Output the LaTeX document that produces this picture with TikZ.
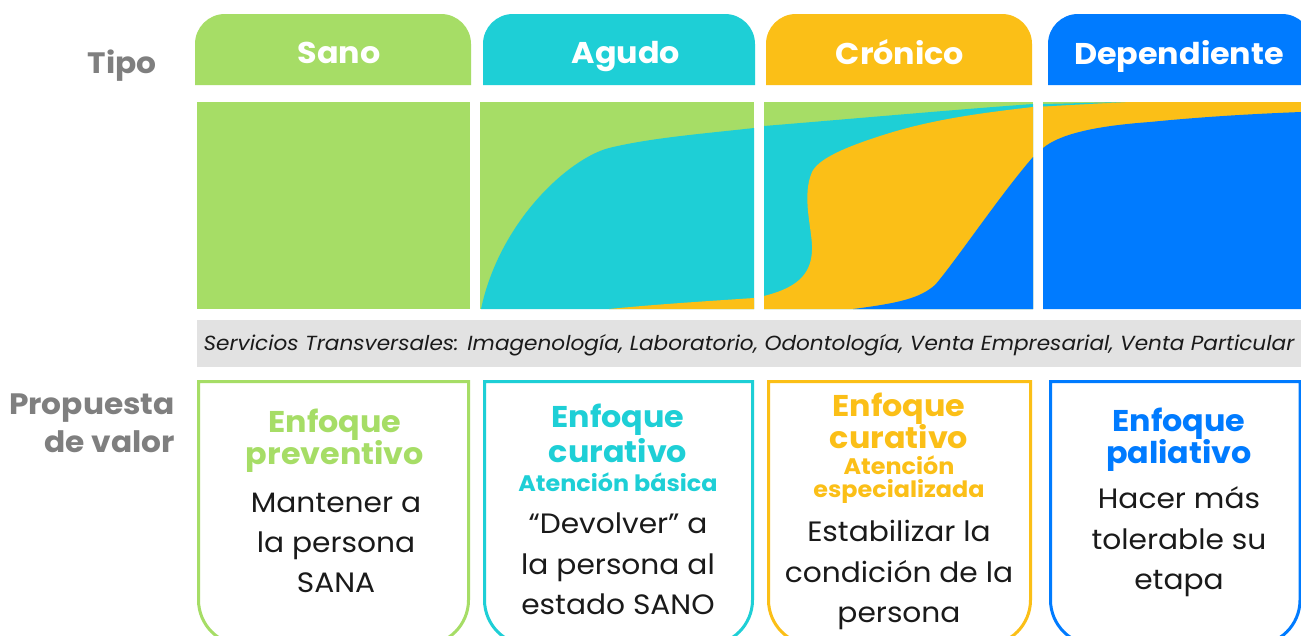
\documentclass[tikz,border=0pt]{standalone}
\usepackage{fontspec}
\setmainfont{Poppins}[FakeStretch=1.06]
\definecolor{cgreen}{HTML}{A6DD66}
\definecolor{cteal}{HTML}{1ECFD6}
\definecolor{cyellow}{HTML}{FBBF17}
\definecolor{cblue}{HTML}{007BFF}
\definecolor{cgraytxt}{HTML}{7F7F7F}
\definecolor{cband}{HTML}{E2E2E2}
\definecolor{cbody}{HTML}{1A1A1A}
\tikzset{
  headlbl/.style={anchor=base, text=white, font=\fontsize{30}{34}\selectfont\bfseries, inner sep=0pt},
  sidelbl/.style={anchor=base east, text=cgraytxt, font=\fontsize{29.5}{34}\selectfont\bfseries, inner sep=0pt},
  headline/.style={anchor=base, font=\fontsize{30}{34}\selectfont\bfseries, inner sep=0pt},
  subline/.style={anchor=base, font=\fontsize{22.5}{26}\selectfont\bfseries, inner sep=0pt},
  bodyline/.style={anchor=base, text=cbody, font=\fontsize{28}{32}\selectfont, inner sep=0pt},
  boxline/.style={line width=3pt},
}
\newcommand\headtab[3]{\fill[#3] (#1,85) -- (#1,44) arc[start angle=180,end angle=270,radius=30] -- ({#2-30},14) arc[start angle=270,end angle=360,radius=30] -- (#2,85) -- cycle;}
\newcommand\valbox[3]{\draw[boxline,#3] (#1,381.5) -- (#1,600) arc[start angle=180,end angle=90,radius=45] -- ({#2-45},645) arc[start angle=90,end angle=0,radius=45] -- (#2,381.5) -- cycle;}
\begin{document}
\begin{tikzpicture}[x=1pt,y=-1pt]
\useasboundingbox (0,0) rectangle (1301,635);
\clip (0,0) rectangle (1301,635);
\fill[white] (0,0) rectangle (1301,635);

% header tabs
\headtab{195}{471}{cgreen}
\headtab{483}{755}{cteal}
\headtab{766}{1032}{cyellow}
\headtab{1048}{1312}{cblue}
\node[headlbl] (hsano) at (339,63) {Sano};
\node[headlbl] (hagudo) at (626,63) {Agudo};
\node[headlbl] (hcronico) at (900,64) {Crónico};
\node[headlbl] (hdep) at (1179,64) {Dependiente};
\node[sidelbl] (tipo) at (157,73) {Tipo};

% column 1
\fill[cgreen] (197,102) rectangle (470,309);

% column 2
\fill[cgreen] (480,102) rectangle (754,309);
\fill[cteal] (481,309) .. controls (500,220) and (570,158) .. (609,148)
  .. controls (650,138) and (700,134) .. (754,128) -- (754,309) -- cycle;
\fill[cyellow] (609,309) .. controls (660,304) and (710,301) .. (754,298) -- (754,309) -- cycle;

% column 3
\fill[cgreen] (764,102) rectangle (1033,309);
\fill[cteal] (764,126) .. controls (850,119) and (950,110) .. (1033,104) -- (1033,309) -- (764,309) -- cycle;
\fill[cyellow] (764,296) .. controls (800,287) and (813,272) .. (812,245)
  .. controls (811,225) and (802,195) .. (812,172)
  .. controls (818,160) and (840,148) .. (893,132)
  .. controls (940,118) and (990,112) .. (1033,107) -- (1033,309) -- (764,309) -- cycle;
\fill[cblue] (853,309) .. controls (900,303) and (920,298) .. (935,285)
  .. controls (955,262) and (1000,195) .. (1033,157) -- (1033,309) -- cycle;

% column 4
\fill[cyellow] (1043,102) rectangle (1301,309);
\fill[cgreen] (1043,102) -- (1125,102) -- (1043,104) -- cycle;
\fill[cteal] (1043,104) -- (1125,102) -- (1043,106.5) -- cycle;
\fill[cblue] (1043,148) .. controls (1060,134) and (1095,126) .. (1150,122)
  .. controls (1200,117) and (1250,114) .. (1301,112) -- (1301,309) -- (1043,309) -- cycle;

% band
\fill[cband] (197,320) rectangle (1301,367);
\node[anchor=base, font=\fontsize{20.4}{24}\selectfont\itshape, text=cbody, inner sep=0pt] (band) at (749,350) {Servicios Transversales: Imagenología, Laboratorio, Odontología, Venta Empresarial, Venta Particular};

% side label
\node[sidelbl] (prop1) at (175,414) {Propuesta};
\node[sidelbl] (prop2) at (175,452) {de valor};

% value boxes
\valbox{198.5}{468.5}{cgreen}
\valbox{484.5}{752.5}{cteal}
\valbox{768.5}{1030.5}{cyellow}
\valbox{1050.5}{1300}{cblue}

% box 1
\node[headline, text=cgreen] (a1) at (335,432) {Enfoque};
\node[headline, text=cgreen] (a2) at (335,464) {preventivo};
\node[bodyline] (a3) at (336,512) {Mantener a};
\node[bodyline] (a4) at (336,552) {la persona};
\node[bodyline] (a5) at (336,592) {SANA};

% box 2
\node[headline, text=cteal] (b1) at (618,427) {Enfoque};
\node[headline, text=cteal] (b2) at (618,462) {curativo};
\node[subline, text=cteal] (b3) at (618,491) {Atención básica};
\node[bodyline] (b4) at (618,533) {“Devolver” a};
\node[bodyline] (b5) at (618,574) {la persona al};
\node[bodyline] (b6) at (618,614) {estado SANO};

% box 3
\node[headline, text=cyellow] (c1) at (899,416) {Enfoque};
\node[headline, text=cyellow] (c2) at (899,448) {curativo};
\node[subline, text=cyellow] (c3) at (899,474) {Atención};
\node[subline, text=cyellow] (c4) at (899,497) {especializada};
\node[bodyline] (c5) at (899,541) {Estabilizar la};
\node[bodyline] (c6) at (899,582) {condición de la};
\node[bodyline] (c7) at (899,622) {persona};

% box 4
\node[headline, text=cblue] (d1) at (1179,431) {Enfoque};
\node[headline, text=cblue] (d2) at (1179,463) {paliativo};
\node[bodyline] (d3) at (1179,508) {Hacer más};
\node[bodyline] (d4) at (1179,549) {tolerable su};
\node[bodyline] (d5) at (1179,589) {etapa};
\end{tikzpicture}
\end{document}
